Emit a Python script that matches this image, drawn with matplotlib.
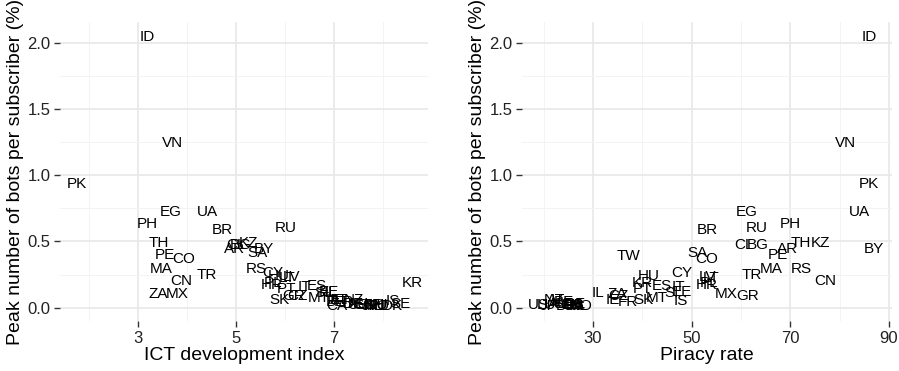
import matplotlib
matplotlib.use("Agg")
import matplotlib.pyplot as plt
import numpy as np

# country codes with ICT development index, piracy rate (%) and peak bots per subscriber (%)
codes = ["ID", "VN", "PK", "UA", "EG", "PH", "RU", "BR", "TH", "KZ",
         "CL", "BG", "BY", "AR", "SA", "PE", "CO", "TW", "MA", "RS",
         "TR", "CY", "HU", "LV", "LT", "PL", "CN", "KR", "HR", "ES",
         "IT", "PT", "EE", "SI", "MX", "GR", "IL", "ZA", "CZ", "IE",
         "MT", "SK", "FR", "IS", "US", "JP", "NZ", "LU", "AU", "AT",
         "SE", "FI", "DK", "CH", "NL", "GB", "DE", "BE", "NO", "CA"]
ict = [3.20, 3.71, 1.76, 4.41, 3.67, 3.20, 6.02, 4.73, 3.42, 5.25,
       5.00, 5.10, 5.57, 4.98, 5.43, 3.56, 3.94, np.nan, 3.47, 5.41,
       4.41, 5.76, 5.88, 6.14, 6.05, 5.75, 3.89, 8.60, 5.73, 6.65,
       6.39, 6.04, 6.90, 6.75, 3.81, 6.17, 6.95, 3.41, 6.25, 7.00,
       6.69, 5.88, 7.20, 8.20, 7.50, 7.75, 7.40, 7.90, 7.50, 7.10,
       8.35, 7.90, 8.20, 7.80, 7.80, 7.60, 7.40, 7.05, 7.90, 7.05]
piracy = [86.0, 81.2, 86.0, 84.0, 61.1, 70.0, 63.1, 53.1, 72.2, 76.1,
          60.5, 63.3, 86.9, 69.4, 51.1, 67.4, 53.1, 37.1, 66.1, 72.2,
          62.1, 47.9, 41.2, 53.3, 54.0, 53.5, 77.1, 40.0, 53.1, 44.0,
          47.3, 40.0, 48.0, 46.0, 57.0, 61.3, 31.0, 35.0, 35.2, 34.0,
          43.0, 40.2, 37.0, 47.7, 19.0, 21.0, 22.0, 20.5, 23.0, 22.5,
          24.0, 25.0, 24.5, 25.5, 27.0, 26.0, 26.5, 24.0, 27.5, 26.0]
bots = [2.04, 1.24, 0.935, 0.72, 0.72, 0.63, 0.60, 0.59, 0.49, 0.49,
        0.47, 0.47, 0.445, 0.445, 0.415, 0.40, 0.37, 0.39, 0.295, 0.295,
        0.25, 0.26, 0.24, 0.235, 0.225, 0.19, 0.205, 0.19, 0.175, 0.165,
        0.16, 0.14, 0.12, 0.11, 0.105, 0.09, 0.11, 0.10, 0.09, 0.055,
        0.07, 0.06, 0.04, 0.05, 0.02, 0.01, 0.06, 0.02, 0.03, 0.06,
        0.03, 0.02, 0.01, 0.02, 0.01, 0.02, 0.03, 0.04, 0.01, 0.01]

yticks = [0.0, 0.5, 1.0, 1.5, 2.0]
ytick_labels = ["0.0", "0.5", "1.0", "1.5", "2.0"]

plt.rcParams['font.family'] = ['Liberation Sans', 'DejaVu Sans']

fig = plt.figure(figsize=(8.99, 3.71), dpi=100)
ax1 = fig.add_axes([60/899, 50/371, 368/899, 299/371])
ax2 = fig.add_axes([522/899, 50/371, 370/899, 299/371])


def style(ax, xmajor, xminor, xlim, xlabel):
    ax.set_xlim(xlim)
    ax.set_ylim(-0.1, 2.155)
    ax.set_xticks(xmajor)
    ax.set_xticks(xminor, minor=True)
    ax.set_yticks(yticks)
    ax.set_yticklabels(ytick_labels)
    ax.set_yticks([0.25, 0.75, 1.25, 1.75], minor=True)
    for s in ax.spines.values():
        s.set_visible(False)
    ax.grid(True, which='major', color='#e8e8e8', linewidth=1.2)
    ax.grid(True, which='minor', color='#f3f3f3', linewidth=0.7)
    ax.set_axisbelow(True)
    ax.tick_params(which='major', length=4, width=1, color='#333333',
                   labelsize=12, labelcolor='#222222', pad=3)
    ax.tick_params(which='minor', length=0)
    ax.set_xlabel(xlabel, fontsize=14, labelpad=1)
    ax.set_ylabel("Peak number of bots per subscriber (%)", fontsize=14, labelpad=2)


style(ax1, [3, 5, 7], [2, 4, 6, 8], (1.41, 8.92), "ICT development index")
style(ax2, [30, 50, 70, 90], [20, 40, 60, 80], (15.6, 90.6), "Piracy rate")

for c, x, y in zip(codes, ict, bots):
    if not np.isnan(x):
        ax1.text(x, y, c, ha='center', va='center', fontsize=11, color='black')

for c, x, y in zip(codes, piracy, bots):
    ax2.text(x, y, c, ha='center', va='center', fontsize=11, color='black')

fig.savefig("out.png", dpi=100)
